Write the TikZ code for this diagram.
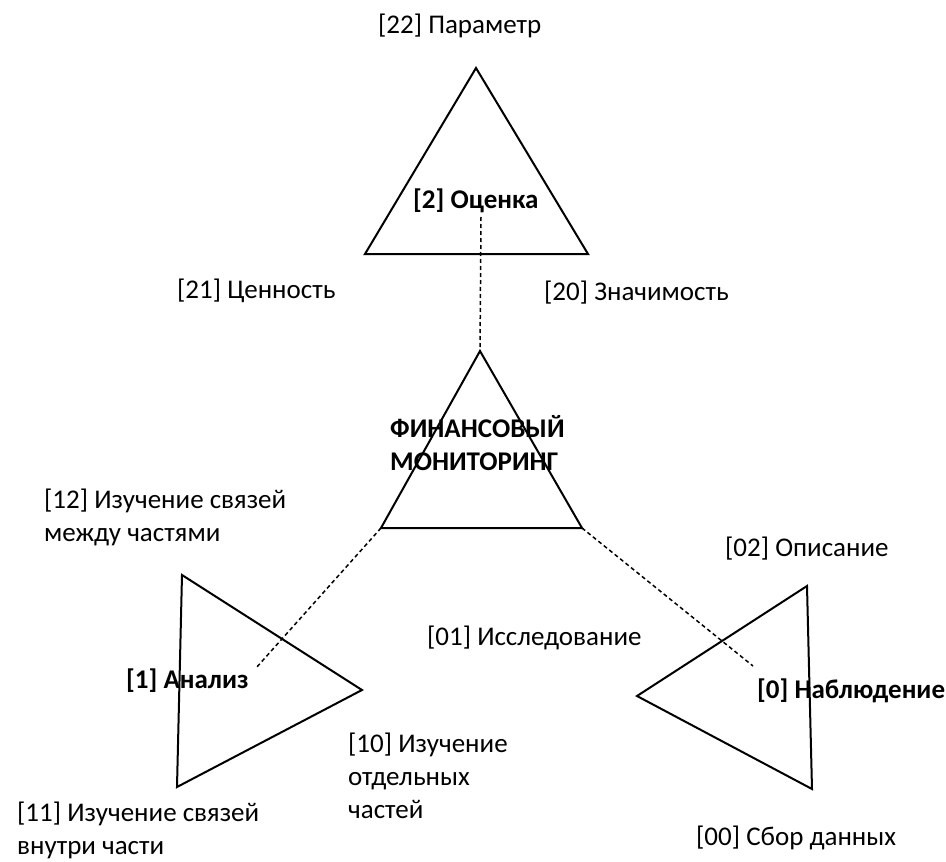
\documentclass[tikz,border=0pt]{standalone}
\usepackage{fontspec}
\setmainfont{Carlito}

\begin{document}
\begin{tikzpicture}[x=1pt,y=-1pt,
	tri/.style={draw,line width=2pt,line join=miter},
	link/.style={line width=1.5pt,dash pattern=on 4pt off 3pt},
	lbl/.style={anchor=base west,inner sep=0pt,align=left,font=\fontsize{27}{33}\selectfont},
	key/.style={lbl,font=\fontsize{27}{33}\selectfont\bfseries}]
	\useasboundingbox (0,0) rectangle (946,862);
	% triangles
	\coordinate (eA) at (476,68);  \coordinate (eB) at (365,254); \coordinate (eC) at (588,254);
	\coordinate (fA) at (480,351); \coordinate (fB) at (381,528); \coordinate (fC) at (582,528);
	\coordinate (aA) at (182,575); \coordinate (aB) at (362,690); \coordinate (aC) at (177,787);
	\coordinate (nA) at (807,586); \coordinate (nB) at (637,696); \coordinate (nC) at (812,789);
	\draw[tri] (eA) -- (eB) -- (eC) -- cycle;
	\draw[tri] (fA) -- (fB) -- (fC) -- cycle;
	\draw[tri] (aA) -- (aB) -- (aC) -- cycle;
	\draw[tri] (nA) -- (nB) -- (nC) -- cycle;
	% labels (multi-line ones sit on their last line)
	\node[lbl] (par)  at (378,33)  {[22] Параметр};
	\node[key] (ots)  at (413,208) {[2] Оценка};
	\node[lbl] (tsen) at (177,298) {[21] Ценность};
	\node[lbl] (zn)   at (544,300) {[20] Значимость};
	\node[key] (fin)  at (390,470) {ФИНАНСОВЫЙ\\МОНИТОРИНГ};
	\node[lbl] (svm)  at (44,541)  {[12] Изучение связей\\между частями};
	\node[lbl] (opi)  at (725,556) {[02] Описание};
	\node[lbl] (iss)  at (427,645) {[01] Исследование};
	\node[key] (ana)  at (126,688) {[1] Анализ};
	\node[key] (nab)  at (757,698) {[0] Наблюдение};
	\node[lbl] (otd)  at (348,818) {[10] Изучение\\отдельных\\частей};
	\node[lbl] (svv)  at (17,854)  {[11] Изучение связей\\внутри части};
	\node[lbl] (sbo)  at (696,845) {[00] Сбор данных};
	% dashed links
	\coordinate (eD) at (481,217);
	\coordinate (aD) at (256,668);
	\coordinate (nD) at (753,666);
	\draw[link] (eD) -- (fA);
	\draw[link] (fB) -- (aD);
	\draw[link] (fC) -- (nD);
\end{tikzpicture}
\end{document}
